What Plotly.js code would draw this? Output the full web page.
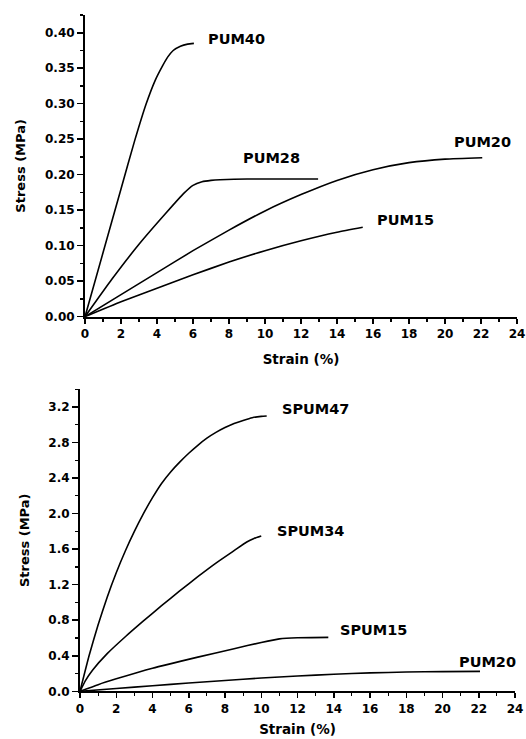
<!DOCTYPE html>
<html>
<head>
<meta charset="utf-8">
<script src="https://cdn.plot.ly/plotly-3.0.1.min.js"></script>
<style>html,body{margin:0;padding:0;background:#fff;}#chart{width:526px;height:739px;}</style>
</head>
<body>
<div id="chart"></div>
<script>
// ---- Top panel data (Strain %, Stress MPa) ----
const pum40_x = [0, 1, 2, 2.76, 3.4, 3.9, 4.3, 4.6, 4.9, 5.3, 5.7, 6.05];
const pum40_y = [0, 0.09, 0.18, 0.248, 0.300, 0.333, 0.353, 0.366, 0.375, 0.381, 0.384, 0.385];

const pum28_x = [0, 1.5, 3, 4.5, 5.5, 6, 6.5, 7, 7.5, 9, 11, 12.95];
const pum28_y = [0, 0.053, 0.102, 0.146, 0.174, 0.185, 0.190, 0.192, 0.193, 0.194, 0.194, 0.194];

const pum20_x = [0, 2, 4, 6, 8, 10, 12, 14, 16, 18, 20, 22.07];
const pum20_y = [0, 0.031, 0.062, 0.093, 0.122, 0.149, 0.172, 0.192, 0.207, 0.217, 0.222, 0.224];

const pum15_x = [0, 2, 4, 6, 8, 10, 12, 14, 15.43];
const pum15_y = [0, 0.021, 0.040, 0.059, 0.077, 0.093, 0.107, 0.119, 0.126];

// ---- Bottom panel data ----
const spum47_x = [0, 0.5, 1, 1.5, 2, 2.5, 3, 3.5, 4, 4.5, 5, 5.5, 6, 6.5, 7, 7.5, 8, 8.5, 9, 9.5, 10, 10.3];
const spum47_y = [0, 0.40, 0.75, 1.06, 1.335, 1.58, 1.80, 2.00, 2.18, 2.34, 2.47, 2.58, 2.68, 2.77, 2.85, 2.915, 2.97, 3.015, 3.05, 3.08, 3.095, 3.10];

const spum34_x = [0, 0.3, 0.7, 1.5, 2.5, 3.5, 4.5, 5.5, 6.5, 7.5, 8.5, 9.2, 9.6, 10];
const spum34_y = [0, 0.12, 0.24, 0.424, 0.614, 0.792, 0.964, 1.13, 1.29, 1.443, 1.583, 1.681, 1.721, 1.749];

const spum15_x = [0, 1, 2, 4, 6.5, 8.5, 10, 11, 12, 13.7];
const spum15_y = [0, 0.075, 0.14, 0.26, 0.385, 0.48, 0.55, 0.59, 0.603, 0.607];

// ---- Curve label texts and anchor positions (data coords) ----
const topLabels = ["PUM40", "PUM28", "PUM20", "PUM15"];
const topLabelX = [6.73, 8.65, 20.41, 16.09];
const topLabelY = [0.391, 0.2236, 0.2458, 0.1365];
const botLabels = ["SPUM47", "SPUM34", "SPUM15", "PUM20"];
const botLabelX = [11.02, 10.74, 14.25, 20.78];
const botLabelY = [3.176, 1.81, 0.693, 0.333];

const FONT = "DejaVu Sans, Arial, sans-serif";
const lineStyle = {color: "#000", width: 1.6, shape: "spline", smoothing: 0.5};

function tr(x, y, xa, ya, name) {
  return {x: x, y: y, xaxis: xa, yaxis: ya, mode: "lines", line: lineStyle, name: name, showlegend: false, hoverinfo: "x+y"};
}

const data = [
  tr(pum40_x, pum40_y, "x", "y", "PUM40"),
  tr(pum28_x, pum28_y, "x", "y", "PUM28"),
  tr(pum20_x, pum20_y, "x", "y", "PUM20"),
  tr(pum15_x, pum15_y, "x", "y", "PUM15"),
  tr(spum47_x, spum47_y, "x2", "y2", "SPUM47"),
  tr(spum34_x, spum34_y, "x2", "y2", "SPUM34"),
  tr(spum15_x, spum15_y, "x2", "y2", "SPUM15"),
  tr(pum20_x, pum20_y, "x2", "y2", "PUM20")
];

const tickFont = {family: FONT, size: 12, color: "#000", weight: "bold"};
const titleFont = {family: FONT, size: 13, color: "#000", weight: "bold"};

function xAxis(domain, anchor, standoff) {
  return {
    domain: domain, anchor: anchor, range: [0, 24], dtick: 2, tick0: 0,
    showgrid: false, zeroline: false, showline: true, linecolor: "#000", linewidth: 2,
    ticks: "outside", ticklen: 5, tickwidth: 1.5, tickcolor: "#000",
    minor: {dtick: 1, ticks: "outside", ticklen: 3, tickwidth: 1.2, tickcolor: "#000", showgrid: false},
    tickfont: tickFont, ticklabeloverflow: "allow", fixedrange: true,
    title: {text: "Strain (%)", font: {family: FONT, size: 13.5, color: "#000", weight: "bold"}, standoff: standoff}
  };
}
function yAxis(domain, anchor, range, dtick, fmt) {
  return {
    domain: domain, anchor: anchor, range: range, dtick: dtick, tick0: 0, tickformat: fmt,
    showgrid: false, zeroline: false, showline: true, linecolor: "#000", linewidth: 2,
    ticks: "outside", ticklen: 6, tickwidth: 1.5, tickcolor: "#000",
    minor: {dtick: dtick / 2, ticks: "outside", ticklen: 3.5, tickwidth: 1.2, tickcolor: "#000", showgrid: false},
    tickfont: tickFont, fixedrange: true,
    title: {text: "Stress (MPa)", font: titleFont, standoff: 16}
  };
}

const annotations = [];
topLabels.forEach((t, i) => annotations.push({
  text: t, x: topLabelX[i], y: topLabelY[i], xref: "x", yref: "y",
  xanchor: "left", yanchor: "middle", showarrow: false,
  font: {family: FONT, size: 14.5, color: "#000", weight: "bold"}
}));
botLabels.forEach((t, i) => annotations.push({
  text: t, x: botLabelX[i], y: botLabelY[i], xref: "x2", yref: "y2",
  xanchor: "left", yanchor: "middle", showarrow: false,
  font: {family: FONT, size: 14.5, color: "#000", weight: "bold"}
}));

const layout = {
  width: 526, height: 739,
  margin: {l: 0, r: 0, t: 0, b: 0},
  paper_bgcolor: "#fff", plot_bgcolor: "#fff",
  showlegend: false,
  xaxis: xAxis([85/526, 517/526], "y", 14),
  yaxis: yAxis([422.3/739, 724/739], "x", [0, 0.425], 0.05, ".2f"),
  xaxis2: xAxis([80/526, 515/526], "y2", 10),
  yaxis2: yAxis([47.7/739, 349.7/739], "x2", [0, 3.4], 0.4, ".1f"),
  annotations: annotations
};

Plotly.newPlot("chart", data, layout, {displayModeBar: false, staticPlot: true});
</script>
</body>
</html>
